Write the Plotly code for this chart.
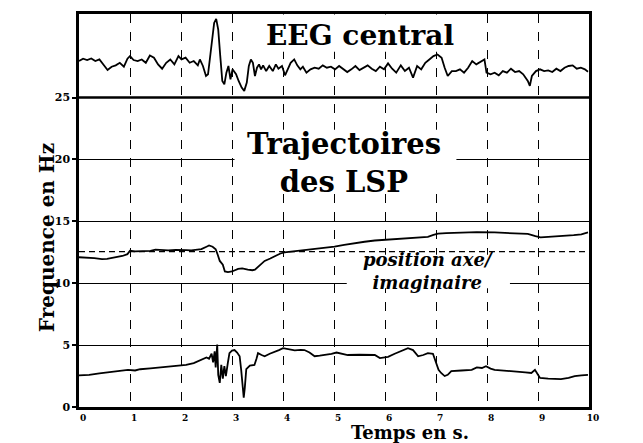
import plotly.graph_objects as go

# ---------------- data ----------------
eeg_t = [0.00,0.08,0.16,0.24,0.32,0.40,0.50,0.56,0.64,0.72,0.80,0.88,0.95,1.00,1.07,1.15,1.23,1.31,1.39,1.47,
         1.55,1.63,1.71,1.79,1.87,1.95,2.01,2.09,2.17,2.25,2.33,2.37,2.43,2.49,2.53,2.57,2.61,2.65,2.69,2.73,
         2.77,2.81,2.85,2.89,2.93,2.97,3.01,3.08,3.13,3.19,3.24,3.29,3.33,3.37,3.41,3.45,3.49,3.53,3.57,3.61,
         3.67,3.73,3.80,3.86,3.91,3.98,4.04,4.10,4.15,4.22,4.28,4.34,4.39,4.46,4.54,4.62,4.70,4.78,4.86,4.94,
         5.02,5.10,5.18,5.26,5.34,5.42,5.50,5.58,5.66,5.74,5.82,5.90,5.98,6.06,6.14,6.22,6.31,6.39,6.47,6.55,
         6.63,6.71,6.79,6.87,6.95,7.03,7.11,7.17,7.23,7.31,7.39,7.47,7.55,7.63,7.71,7.79,7.87,7.95,7.99,8.07,
         8.15,8.23,8.31,8.39,8.47,8.55,8.63,8.71,8.80,8.84,8.88,8.96,9.04,9.12,9.20,9.28,9.36,9.44,9.52,9.60,
         9.68,9.76,9.84,9.92,9.98]
eeg_v = [27.95,28.14,28.03,28.16,27.95,28.08,27.55,27.22,27.49,27.60,27.81,27.49,28.14,28.35,28.03,27.95,28.08,27.81,28.40,28.22,
         27.68,27.33,27.81,28.08,27.68,28.35,28.08,28.22,27.81,27.95,27.60,28.08,27.55,26.74,26.88,28.35,29.96,31.03,31.35,30.49,
         28.35,26.34,26.07,27.01,27.55,26.47,27.28,26.88,26.34,25.80,25.54,26.21,27.55,28.08,27.81,26.74,27.41,27.68,27.28,27.60,
         27.14,27.55,27.14,27.68,27.33,27.55,26.80,27.41,27.81,28.08,27.60,27.28,27.49,27.01,27.28,27.41,27.33,27.60,27.41,27.49,
         27.28,27.55,27.33,27.06,27.28,27.55,27.22,27.41,27.60,27.33,27.14,27.49,27.28,27.76,27.33,27.01,27.60,27.14,27.41,26.61,
         27.55,27.28,27.81,28.08,28.35,28.48,28.22,27.41,26.74,27.14,27.14,27.28,27.01,27.41,27.95,27.68,27.87,28.08,27.01,26.88,
         27.01,26.80,27.14,27.01,27.33,27.06,27.14,26.88,26.34,25.94,26.74,27.14,27.28,27.14,27.20,27.06,27.33,27.14,27.41,27.55,
         27.60,27.33,27.41,27.28,27.09]

c2_t = [0.00,0.15,0.30,0.45,0.55,0.70,0.85,0.95,1.00,1.10,1.25,1.40,1.50,1.60,1.75,1.90,2.00,2.10,2.20,2.30,
        2.40,2.50,2.55,2.62,2.68,2.72,2.76,2.82,2.86,2.92,3.00,3.12,3.20,3.31,3.40,3.45,3.55,3.64,3.75,3.84,
        3.95,4.03,4.20,4.35,4.49,4.70,4.85,5.01,5.20,5.35,5.47,5.60,5.80,5.99,6.20,6.35,6.51,6.70,6.84,6.95,
        7.04,7.20,7.50,7.80,8.15,8.50,8.80,8.95,9.05,9.20,9.45,9.70,9.85,9.98]
c2_v = [12.10,12.08,12.02,11.95,11.97,12.08,12.20,12.35,12.62,12.58,12.60,12.62,12.72,12.68,12.65,12.70,12.72,12.68,12.66,12.70,
        12.75,12.95,13.05,12.95,12.75,12.30,11.80,11.50,10.95,10.90,10.95,11.16,11.20,11.10,11.05,11.10,11.50,11.80,12.00,12.20,
        12.40,12.50,12.58,12.65,12.72,12.80,12.88,12.95,13.10,13.20,13.30,13.35,13.45,13.50,13.55,13.62,13.65,13.72,13.75,13.90,
        14.00,14.05,14.10,14.12,14.10,14.05,13.98,13.80,13.70,13.75,13.80,13.88,13.95,14.10]

d1_t = [0.00,0.20,0.40,0.60,0.80,0.96,1.10,1.20,1.40,1.60,1.80,1.96,2.10,2.25,2.40,2.50,2.55,2.60,2.63,2.66,
        2.68,2.71,2.73,2.76,2.79,2.82,2.85,2.88,2.92,2.95,3.00,3.05,3.10,3.15,3.18,3.21,3.23,3.25,3.28,3.35,
        3.44,3.48,3.51,3.58,3.64,3.74,3.84,3.92,4.00,4.10,4.23,4.35,4.42,4.52,4.62,4.72,4.82,4.95,5.05,5.15,
        5.27,5.50,5.70,5.80,5.90,6.06,6.19,6.30,6.45,6.55,6.65,6.75,6.84,6.94,7.00,7.05,7.10,7.17,7.23,7.30,
        7.50,7.70,7.80,7.90,7.98,8.07,8.15,8.35,8.55,8.75,8.87,8.94,9.00,9.04,9.20,9.45,9.60,9.72,9.85,9.98]
d1_v = [2.55,2.60,2.72,2.82,2.90,3.00,2.95,3.05,3.12,3.20,3.25,3.35,3.40,3.55,3.85,4.00,3.90,4.30,3.60,4.50,
        3.20,5.05,2.60,1.95,3.40,2.30,3.30,2.50,3.60,4.35,4.55,4.60,4.40,4.10,3.00,1.60,0.75,1.50,3.05,3.35,
        3.40,3.90,4.35,4.20,4.10,4.30,4.50,4.60,4.75,4.65,4.57,4.62,4.60,4.40,4.10,4.15,4.20,4.30,4.40,4.30,
        4.20,4.22,4.20,4.20,3.95,4.05,4.30,4.50,4.75,4.60,4.10,4.20,4.35,4.30,3.55,3.00,2.75,2.50,2.60,2.90,
        2.95,3.00,3.20,3.15,3.30,3.10,3.00,2.95,2.90,2.80,2.75,3.00,2.60,2.35,2.30,2.25,2.35,2.50,2.55,2.60]

axe_t = [0, 10]
axe_v = [12.55, 12.55]

x_ticks = [0, 1, 2, 3, 4, 5, 6, 7, 8, 9, 10]
y_ticks = [0, 5, 10, 15, 20, 25]
panel_sep = 25

FONT = "DejaVu Serif"

fig = go.Figure()
fig.add_trace(go.Scatter(x=axe_t, y=axe_v, mode="lines",
                         line=dict(color="black", width=1.3, dash="6px,4px"), hoverinfo="skip"))
for t, v in [(eeg_t, eeg_v), (c2_t, c2_v), (d1_t, d1_v)]:
    fig.add_trace(go.Scatter(x=t, y=v, mode="lines",
                             line=dict(color="black", width=1.8), hoverinfo="skip"))

# separator between EEG panel and LSP panel
fig.add_shape(type="line", xref="x", yref="y", x0=0, x1=10, y0=panel_sep, y1=panel_sep,
              line=dict(color="black", width=2.5), layer="above")

# white areas that interrupt the grid behind the labels (between grid and traces)
for x0, x1, y0, y1 in [(3.35, 7.65, 28.7, 31.7), (3.05, 7.4, 17.2, 22.4), (5.25, 8.45, 9.6, 12.3)]:
    fig.add_shape(type="rect", xref="x", yref="y", x0=x0, x1=x1, y0=y0, y1=y1,
                  fillcolor="white", line=dict(width=0), layer="between")

def ann(text, x, y, size, xref="x", yref="y", angle=0, italic=False):
    t = f"<b>{text}</b>" if not italic else f"<b><i>{text}</i></b>"
    fig.add_annotation(text=t, x=x, y=y, xref=xref, yref=yref, showarrow=False,
                       font=dict(family=FONT, size=size, color="black"),
                       borderpad=0, textangle=angle)

ann("EEG central", 5.5, 30.05, 28)
ann("Trajectoires<br>des LSP", 5.2, 19.7, 29)
ann("position axe/<br>imaginaire", 6.85, 11.0, 18, italic=True)
fig.add_annotation(text="<b><i>C</i>2</b>", x=10.5, y=13.7, xref="x", yref="y", showarrow=False,
                   font=dict(family=FONT, size=22, color="black"))
fig.add_annotation(text="<b><i>d</i> 1</b>", x=10.58, y=2.6, xref="x", yref="y", showarrow=False,
                   font=dict(family=FONT, size=22, color="black"))
ann("Frequence en Hz", -0.088, 0.43, 20, xref="paper", yref="paper", angle=-90)
ann("Temps en s.", 0.649, -0.0934, 18, xref="paper", yref="paper")

fig.update_xaxes(range=[0, 10], tickvals=x_ticks, ticktext=[str(v) for v in x_ticks],
                 showline=True, linecolor="black", linewidth=2.5, mirror=True,
                 showgrid=True, gridcolor="black", gridwidth=1, griddash="dash",
                 ticks="", ticklabelshift=4, ticklabelstandoff=0,
                 tickfont=dict(family=FONT, size=9, color="black", weight="bold"),
                 zeroline=False)
fig.update_yaxes(range=[0, 31.75], tickvals=y_ticks, ticktext=[str(v) for v in y_ticks],
                 showline=True, linecolor="black", linewidth=2.5, mirror=True,
                 showgrid=True, gridcolor="black", gridwidth=1,
                 ticks="outside", ticklen=4, tickwidth=1.5, tickcolor="black",
                 tickfont=dict(family=FONT, size=11, color="black", weight="bold"),
                 zeroline=False)
fig.update_layout(width=643, height=443, margin=dict(l=71, r=62, t=3, b=44),
                  paper_bgcolor="white", plot_bgcolor="white", showlegend=False)

fig.write_html("out.html")
